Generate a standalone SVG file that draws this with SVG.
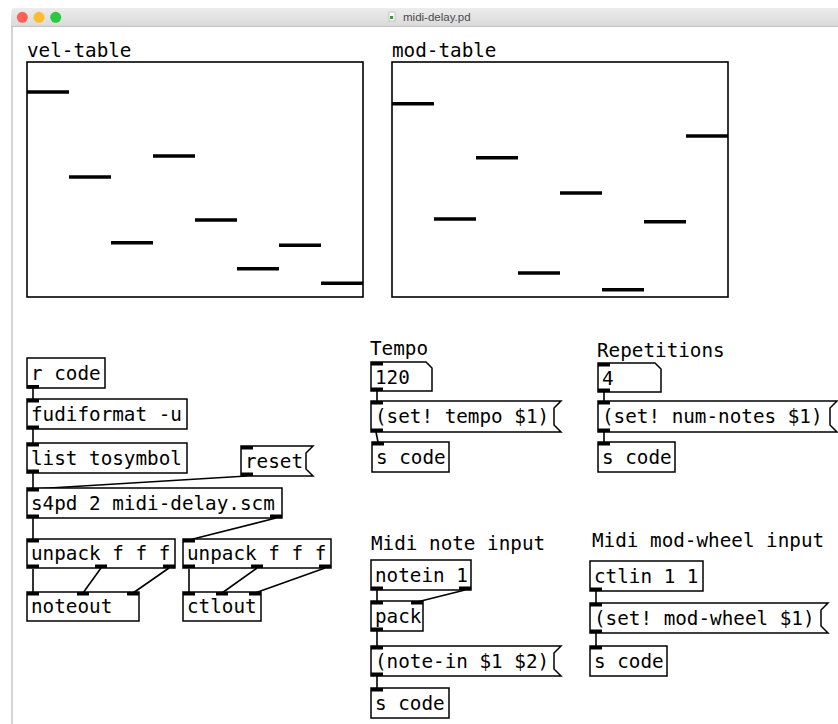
<svg xmlns="http://www.w3.org/2000/svg" width="838" height="724" viewBox="0 0 838 724">
<defs>
<linearGradient id="tb" x1="0" y1="0" x2="0" y2="1">
<stop offset="0" stop-color="#ececec"/>
<stop offset="1" stop-color="#d9d9d9"/>
</linearGradient>
</defs>
<style>
text{font-family:"DejaVu Sans Mono",monospace;font-size:19.3px;fill:#000}
.box{fill:#fff;stroke:#000;stroke-width:1.5}
.io{fill:#000}
.tab{fill:#fff;stroke:#000;stroke-width:1.6}
.seg{stroke:#000;stroke-width:3.5}
.cn line{stroke:#000;stroke-width:1.6}
.title{font-family:"Liberation Sans",Arial,sans-serif;font-size:11.5px;fill:#4a4a4a}
</style>
<rect width="838" height="724" fill="#fff"/>
<!-- window chrome -->
<g id="window">
<path d="M11,27 V13 Q11,8 16,8 H838 V27 Z" fill="url(#tb)"/>
<line x1="11" y1="26.5" x2="838" y2="26.5" stroke="#c4c4c4" stroke-width="1"/>
<line x1="12" y1="27" x2="12" y2="724" stroke="#d4d4d4" stroke-width="2"/>
<circle cx="22.3" cy="17.3" r="5.5" fill="#fe5f57"/>
<circle cx="39" cy="17.3" r="5.5" fill="#febc2e"/>
<circle cx="55.7" cy="17.3" r="5.5" fill="#2bc840"/>
<rect x="389" y="12" width="6" height="9" fill="#fafafa" stroke="#aaa" stroke-width="0.6"/>
<rect x="390" y="16" width="3" height="3" fill="#3a9a3a"/>
<text class="title" x="403" y="21">midi-delay.pd</text>
</g>
<!-- tables -->
<g id="vel-table">
<text x="27" y="57">vel-table</text>
<rect class="tab" x="27" y="62" width="336" height="235"/>
<line class="seg" x1="27" y1="92" x2="69" y2="92"/>
<line class="seg" x1="69" y1="177" x2="111" y2="177"/>
<line class="seg" x1="111" y1="242.7" x2="153" y2="242.7"/>
<line class="seg" x1="153" y1="156" x2="195" y2="156"/>
<line class="seg" x1="195" y1="220" x2="237" y2="220"/>
<line class="seg" x1="237" y1="268.7" x2="279" y2="268.7"/>
<line class="seg" x1="279" y1="245.3" x2="321" y2="245.3"/>
<line class="seg" x1="321" y1="283.3" x2="363" y2="283.3"/>
</g>
<g id="mod-table">
<text x="392" y="57">mod-table</text>
<rect class="tab" x="392" y="62" width="336" height="235"/>
<line class="seg" x1="392" y1="103.7" x2="434" y2="103.7"/>
<line class="seg" x1="434" y1="219" x2="476" y2="219"/>
<line class="seg" x1="476" y1="157.7" x2="518" y2="157.7"/>
<line class="seg" x1="518" y1="273" x2="560" y2="273"/>
<line class="seg" x1="560" y1="193" x2="602" y2="193"/>
<line class="seg" x1="602" y1="289.7" x2="644" y2="289.7"/>
<line class="seg" x1="644" y1="221.7" x2="686" y2="221.7"/>
<line class="seg" x1="686" y1="136" x2="728" y2="136"/>
</g>
<!-- connectors -->
<g id="connectors" class="cn">
<line x1="33" y1="388" x2="33" y2="399"/>
<line x1="33" y1="429" x2="33" y2="443"/>
<line x1="33" y1="473" x2="33" y2="488"/>
<line x1="247" y1="476" x2="33" y2="489"/>
<line x1="33" y1="518" x2="33" y2="539"/>
<line x1="276" y1="518" x2="189" y2="540"/>
<line x1="33" y1="569" x2="33" y2="592"/>
<line x1="101" y1="568" x2="83" y2="593"/>
<line x1="169" y1="568" x2="133" y2="593"/>
<line x1="189" y1="569" x2="189" y2="592"/>
<line x1="257" y1="568" x2="222" y2="593"/>
<line x1="325" y1="568" x2="255" y2="593"/>
<line x1="377" y1="391" x2="377" y2="401"/>
<line x1="376" y1="432" x2="378" y2="442"/>
<line x1="604" y1="392" x2="604" y2="401"/>
<line x1="604" y1="432" x2="604" y2="442"/>
<line x1="377" y1="590" x2="377" y2="601"/>
<line x1="465" y1="590" x2="417" y2="602"/>
<line x1="377" y1="631" x2="377" y2="646"/>
<line x1="377" y1="676" x2="377" y2="688"/>
<line x1="596" y1="591" x2="596" y2="603"/>
<line x1="596" y1="633" x2="596" y2="646"/>
</g>
<!-- left chain -->
<g id="r-code">
<rect class="box" x="27" y="358" width="78" height="30"/>
<rect class="io" x="27" y="385" width="12" height="3.5"/>
<text x="31" y="380">r code</text>
</g>
<g id="fudiformat">
<rect class="box" x="27" y="399" width="160" height="30"/>
<rect class="io" x="27" y="399" width="12" height="3.5"/>
<rect class="io" x="27" y="425.5" width="12" height="3.5"/>
<text x="31" y="421">fudiformat -u</text>
</g>
<g id="list-tosymbol">
<rect class="box" x="27" y="443" width="160" height="30"/>
<rect class="io" x="27" y="443" width="12" height="3.5"/>
<rect class="io" x="27" y="469.5" width="12" height="3.5"/>
<text x="31" y="465">list tosymbol</text>
</g>
<g id="reset">
<path class="box" d="M241,446 H313 L306,453 V469 L313,476 H241 Z"/>
<rect class="io" x="241" y="446" width="12" height="3.5"/>
<rect class="io" x="241" y="472.5" width="12" height="3.5"/>
<text x="245" y="468">reset</text>
</g>
<g id="s4pd">
<rect class="box" x="27" y="488" width="255" height="30"/>
<rect class="io" x="27" y="488" width="12" height="3.5"/>
<rect class="io" x="27" y="514.5" width="12" height="3.5"/>
<rect class="io" x="270" y="514.5" width="12" height="3.5"/>
<text x="31" y="510">s4pd 2 midi-delay.scm</text>
</g>
<g id="unpack1">
<rect class="box" x="27" y="539" width="148" height="29"/>
<rect class="io" x="27" y="539" width="12" height="3.5"/>
<rect class="io" x="27" y="564.5" width="12" height="3.5"/>
<rect class="io" x="95" y="564.5" width="12" height="3.5"/>
<rect class="io" x="163" y="564.5" width="12" height="3.5"/>
<text x="31" y="560">unpack f f f</text>
</g>
<g id="unpack2">
<rect class="box" x="183" y="539" width="148" height="29"/>
<rect class="io" x="183" y="539" width="12" height="3.5"/>
<rect class="io" x="183" y="564.5" width="12" height="3.5"/>
<rect class="io" x="251" y="564.5" width="12" height="3.5"/>
<rect class="io" x="319" y="564.5" width="12" height="3.5"/>
<text x="187" y="560">unpack f f f</text>
</g>
<g id="noteout">
<rect class="box" x="27" y="592" width="112" height="29"/>
<rect class="io" x="27" y="592" width="12" height="3.5"/>
<rect class="io" x="77" y="592" width="12" height="3.5"/>
<rect class="io" x="127" y="592" width="12" height="3.5"/>
<text x="31" y="613">noteout</text>
</g>
<g id="ctlout">
<rect class="box" x="183" y="592" width="78" height="29"/>
<rect class="io" x="183" y="592" width="12" height="3.5"/>
<rect class="io" x="216" y="592" width="12" height="3.5"/>
<rect class="io" x="249" y="592" width="12" height="3.5"/>
<text x="187" y="613">ctlout</text>
</g>
<!-- tempo -->
<g id="tempo">
<text x="370" y="355">Tempo</text>
<path class="box" d="M371,362 H426 L432,368 V391 H371 Z"/>
<rect class="io" x="371" y="362" width="12" height="3.5"/>
<rect class="io" x="371" y="387.5" width="12" height="3.5"/>
<text x="375" y="384">120</text>
</g>
<g id="msg-tempo">
<path class="box" d="M371,401 H561 L554,408 V425 L561,432 H371 Z"/>
<rect class="io" x="371" y="401" width="12" height="3.5"/>
<rect class="io" x="371" y="428.5" width="12" height="3.5"/>
<text x="375" y="423">(set! tempo $1)</text>
</g>
<g id="s-code-1">
<rect class="box" x="372" y="442" width="77" height="30"/>
<rect class="io" x="372" y="442" width="12" height="3.5"/>
<text x="376" y="464">s code</text>
</g>
<!-- repetitions -->
<g id="repetitions">
<text x="597" y="357">Repetitions</text>
<path class="box" d="M598,363 H655 L661,369 V392 H598 Z"/>
<rect class="io" x="598" y="363" width="12" height="3.5"/>
<rect class="io" x="598" y="388.5" width="12" height="3.5"/>
<text x="602" y="385">4</text>
</g>
<g id="msg-num-notes">
<path class="box" d="M598,401 H837 L830,408 V425 L837,432 H598 Z"/>
<rect class="io" x="598" y="401" width="12" height="3.5"/>
<rect class="io" x="598" y="428.5" width="12" height="3.5"/>
<text x="602" y="423">(set! num-notes $1)</text>
</g>
<g id="s-code-2">
<rect class="box" x="598" y="442" width="77" height="30"/>
<rect class="io" x="598" y="442" width="12" height="3.5"/>
<text x="602" y="464">s code</text>
</g>
<!-- note input -->
<g id="note-input-label">
<text x="371" y="550">Midi note input</text>
</g>
<g id="notein">
<rect class="box" x="371" y="560" width="100" height="30"/>
<rect class="io" x="371" y="586.5" width="12" height="3.5"/>
<rect class="io" x="459" y="586.5" width="12" height="3.5"/>
<text x="375" y="582">notein 1</text>
</g>
<g id="pack">
<rect class="box" x="371" y="601" width="52" height="30"/>
<rect class="io" x="371" y="601" width="12" height="3.5"/>
<rect class="io" x="411" y="601" width="12" height="3.5"/>
<rect class="io" x="371" y="627.5" width="12" height="3.5"/>
<text x="375" y="623">pack</text>
</g>
<g id="msg-note-in">
<path class="box" d="M371,646 H561 L554,653 V669 L561,676 H371 Z"/>
<rect class="io" x="371" y="646" width="12" height="3.5"/>
<rect class="io" x="371" y="672.5" width="12" height="3.5"/>
<text x="375" y="668">(note-in $1 $2)</text>
</g>
<g id="s-code-3">
<rect class="box" x="371" y="688" width="78" height="30"/>
<rect class="io" x="371" y="688" width="12" height="3.5"/>
<text x="375" y="710">s code</text>
</g>
<!-- mod wheel -->
<g id="mod-wheel-label">
<text x="592" y="547">Midi mod-wheel input</text>
</g>
<g id="ctlin">
<rect class="box" x="590" y="561" width="113" height="30"/>
<rect class="io" x="590" y="587.5" width="12" height="3.5"/>
<text x="594" y="583">ctlin 1 1</text>
</g>
<g id="msg-mod-wheel">
<path class="box" d="M590,603 H828 L821,610 V626 L828,633 H590 Z"/>
<rect class="io" x="590" y="603" width="12" height="3.5"/>
<rect class="io" x="590" y="629.5" width="12" height="3.5"/>
<text x="594" y="625">(set! mod-wheel $1)</text>
</g>
<g id="s-code-4">
<rect class="box" x="590" y="646" width="77" height="30"/>
<rect class="io" x="590" y="646" width="12" height="3.5"/>
<text x="594" y="668">s code</text>
</g>
</svg>
